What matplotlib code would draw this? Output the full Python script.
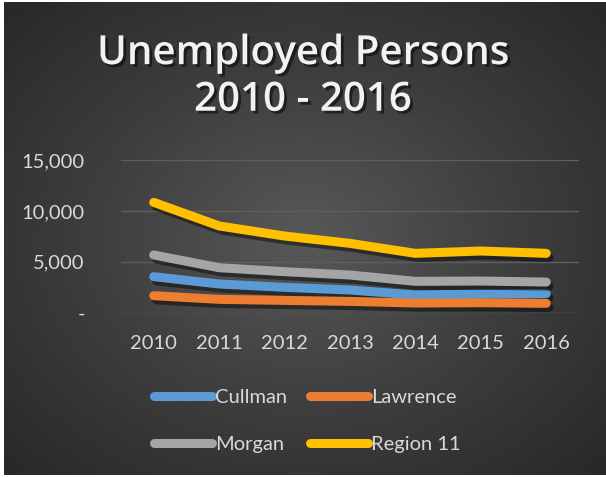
import matplotlib.pyplot as plt
import matplotlib.patheffects as pe
import numpy as np

plt.rcParams['font.family'] = ['Lato', 'DejaVu Sans']

years = ['2010', '2011', '2012', '2013', '2014', '2015', '2016']
cullman = [3540, 2820, 2490, 2230, 1740, 1830, 1870]
lawrence = [1670, 1310, 1210, 1110, 950, 980, 920]
morgan = [5670, 4420, 4030, 3700, 3080, 3110, 3010]
region11 = [10840, 8520, 7530, 6810, 5830, 6060, 5830]

series = [
    ('Cullman', cullman, '#5b9bd5'),
    ('Lawrence', lawrence, '#ed7d31'),
    ('Morgan', morgan, '#a5a5a5'),
    ('Region 11', region11, '#ffc000'),
]

fig = plt.figure(figsize=(6.06, 4.78), dpi=100)
fig.patch.set_facecolor('white')

# dark radial gradient panel
bg = fig.add_axes([4 / 606, 3 / 478, 602 / 606, 473 / 478])
bg.set_axis_off()
yy, xx = np.mgrid[-1:1:300j, -1:1:300j]
r = np.sqrt(xx ** 2 + yy ** 2) / np.sqrt(2)
bg.imshow(r, cmap=plt.matplotlib.colors.LinearSegmentedColormap.from_list(
    'g', ['#585858', '#3e3e3e', '#282828']), aspect='auto', extent=[0, 1, 0, 1])

ax = fig.add_axes([121 / 606, 1 - 312.7 / 478, 458 / 606, 152.7 / 478])
ax.set_facecolor('none')
x = np.arange(len(years))
lines = {}
for name, vals, col in series:
    lines[name], = ax.plot(x, vals, color=col, lw=6.5, solid_capstyle='round', label=name,
                           path_effects=[pe.SimpleLineShadow(offset=(2, -3), shadow_color='black', alpha=0.45),
                                         pe.Normal()])

ax.set_xlim(-0.5, 6.5)
ax.set_ylim(0, 15000)
ax.set_yticks([0, 5000, 10000, 15000])
ax.set_yticklabels(['-', '5,000', '10,000', '15,000'])
ax.set_xticks(x)
ax.set_xticklabels(years)
ax.grid(axis='y', color='#5e5e5e', lw=1)
ax.set_axisbelow(True)
for s in ax.spines.values():
    s.set_visible(False)
ax.tick_params(length=0, colors='#d9d9d9', labelsize=14.5)
ax.tick_params(axis='y', pad=26)
ax.tick_params(axis='x', pad=16)

fig.text(0.5, 0.838, 'Unemployed Persons\n2010 - 2016', ha='center', va='center',
         color='#f2f2f2', fontsize=29, fontweight='semibold', family=['Open Sans', 'DejaVu Sans'],
         linespacing=1.22,
         path_effects=[pe.withSimplePatchShadow(offset=(2, -2), shadow_rgbFace='black', alpha=0.5)])

order = ['Cullman', 'Morgan', 'Lawrence', 'Region 11']
leg = fig.legend([lines[n] for n in order], order, loc='center', bbox_to_anchor=(0.507, 0.119),
                 ncol=2, frameon=False, fontsize=14.5, handlelength=2.9, handletextpad=0.15,
                 columnspacing=1.1, labelspacing=1.5)
for t in leg.get_texts():
    t.set_color('#d9d9d9')
for h in leg.get_lines():
    h.set_linewidth(6.5)
    h.set_solid_capstyle('round')
    h.set_path_effects([])

fig.savefig('out.png', dpi=100, facecolor=fig.get_facecolor())
